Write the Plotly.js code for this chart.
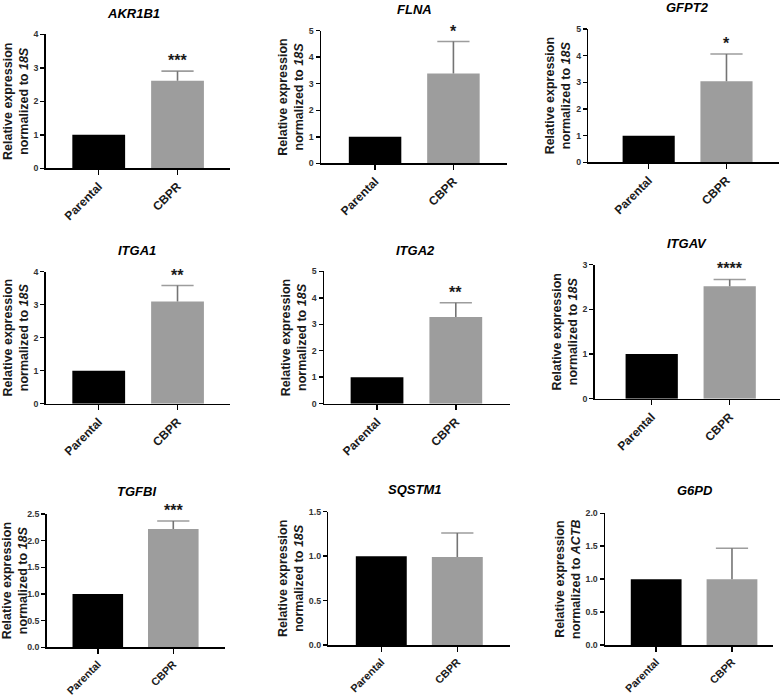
<!DOCTYPE html>
<html>
<head>
<meta charset="utf-8">
<script src="https://cdn.plot.ly/plotly-3.0.1.min.js"></script>
<style>html,body{margin:0;padding:0;background:#fff}#chart{width:784px;height:700px}</style>
</head>
<body>
<div id="chart"></div>
<script>
// ---- data ----
const genes = ['AKR1B1', 'FLNA', 'GFPT2', 'ITGA1', 'ITGA2', 'ITGAV', 'TGFBI', 'SQSTM1', 'G6PD'];
const groups = ['Parental', 'CBPR'];
const parentalMean = [1, 1, 1, 1, 1, 1, 1, 1, 1];
const cbprMean = [2.61, 3.39, 3.04, 3.10, 3.27, 2.52, 2.22, 0.99, 1.00];
const cbprErr = [0.29, 1.20, 1.02, 0.48, 0.54, 0.15, 0.15, 0.27, 0.47];
const significance = ['***', '*', '*', '**', '**', '****', '***', '', ''];
const refGene = ['18S', '18S', '18S', '18S', '18S', '18S', '18S', '18S', 'ACTB'];
const yMax = [4, 5, 5, 4, 5, 3, 2.5, 1.5, 2];
const yStep = [1, 1, 1, 1, 1, 1, 0.5, 0.5, 0.5];

// ---- layout (pixel boxes of each panel: x0,x1,yTop,yBottom) ----
const W = 784, H = 700;
const boxes = [
  [45.7, 230, 34.3, 168.3],
  [321, 506.7, 30.7, 163.3],
  [588.3, 779, 29, 162.3],
  [45.7, 230, 271.7, 403.7],
  [324, 510, 271.3, 403.7],
  [594.7, 780, 264.7, 398.7],
  [46.7, 225, 514, 647.3],
  [328.3, 510, 511.7, 645],
  [605, 773.3, 513.3, 645]
];
const xRanges = [
  [-0.673, 1.666], [-0.69, 1.68], [-0.776, 1.675],
  [-0.673, 1.666], [-0.673, 1.688], [-0.731, 1.645],
  [-0.677, 1.685], [-0.697, 1.693], [-0.675, 1.545]
];
const titlePos = [
  [133, 13], [414.3, 9], [687.3, 7],
  [137.3, 250], [415.7, 250], [686.7, 243.3],
  [136.7, 491], [414.3, 489.3], [695, 490.7]
];
const catFontSize = [12, 12, 12, 12, 12, 12, 10.8, 10.8, 10.8];
const FONT = 'Liberation Sans, Arial, Helvetica, sans-serif';
const BAR_W = 0.67;
const ERR_COLOR = '#747474';

const traces = [];
const layout = {
  width: W, height: H,
  margin: {l: 0, r: 0, t: 0, b: 0},
  paper_bgcolor: '#fff', plot_bgcolor: 'rgba(0,0,0,0)',
  showlegend: false, barmode: 'overlay', hovermode: false,
  font: {family: FONT, color: '#000'},
  annotations: []
};

genes.forEach((g, i) => {
  const n = i + 1;
  const xa = 'x' + (n === 1 ? '' : n), ya = 'y' + (n === 1 ? '' : n);
  const xk = 'xaxis' + (n === 1 ? '' : n), yk = 'yaxis' + (n === 1 ? '' : n);
  const b = boxes[i];

  traces.push({
    type: 'bar', x: [groups[0]], y: [parentalMean[i]], xaxis: xa, yaxis: ya,
    width: BAR_W, marker: {color: '#000000', line: {width: 0}}
  });
  traces.push({
    type: 'bar', x: [groups[1]], y: [cbprMean[i]], xaxis: xa, yaxis: ya,
    width: BAR_W, marker: {color: '#9d9d9d', line: {width: 0}}
  });
  // upper-only error bar: stem from the bar top to mean+SD, with a cap at the top
  traces.push({
    type: 'scatter', mode: 'lines+markers', xaxis: xa, yaxis: ya,
    x: [groups[1], groups[1]], y: [cbprMean[i], cbprMean[i] + cbprErr[i]],
    line: {color: ERR_COLOR, width: 1.6},
    marker: {symbol: 'line-ew-open', size: [0, 23], color: ERR_COLOR,
             line: {color: ERR_COLOR, width: 1.6}},
    cliponaxis: false
  });

  layout[xk] = {
    domain: [b[0] / W, b[1] / W], anchor: ya, type: 'category',
    categoryorder: 'array', categoryarray: groups, range: xRanges[i],
    showline: true, linecolor: '#000', linewidth: 1.5, mirror: false,
    ticks: 'outside', ticklen: 5, tickwidth: 1.5, tickcolor: '#000',
    tickangle: -45, showgrid: false, zeroline: false,
    tickfont: {family: FONT, size: catFontSize[i], weight: 'bold', color: '#1a1a1a'}
  };
  layout[yk] = {
    domain: [1 - b[3] / H, 1 - b[2] / H], anchor: xa,
    range: [0, yMax[i]], dtick: yStep[i], tick0: 0,
    tickformat: yStep[i] < 1 ? '.1f' : 'd',
    showline: true, linecolor: '#000', linewidth: 1.5,
    ticks: 'outside', ticklen: 4, tickwidth: 1.5, tickcolor: '#000',
    showgrid: false, zeroline: false,
    tickfont: {family: FONT, size: 8.8, weight: 'bold', color: '#333'},
    title: {
      text: 'Relative expression<br>normalized to <i>' + refGene[i] + '</i>',
      font: {family: FONT, size: 12.5, weight: 'bold', color: '#1a1a1a'},
      standoff: 2
    }
  };

  layout.annotations.push({
    xref: 'paper', yref: 'paper',
    x: titlePos[i][0] / W, y: 1 - titlePos[i][1] / H,
    xanchor: 'center', yanchor: 'middle', showarrow: false,
    text: '<b><i>' + g + '</i></b>',
    font: {family: FONT, size: 13, color: '#000'}
  });

  if (significance[i]) {
    layout.annotations.push({
      xref: xa, yref: ya, x: groups[1], y: cbprMean[i] + cbprErr[i],
      xanchor: 'center', yanchor: 'bottom', yshift: 0, showarrow: false,
      text: '<b>' + significance[i] + '</b>',
      font: {family: FONT, size: 16, color: '#1a1a1a'}
    });
  }
});

Plotly.newPlot('chart', traces, layout, {staticPlot: true, displayModeBar: false});
</script>
</body>
</html>
